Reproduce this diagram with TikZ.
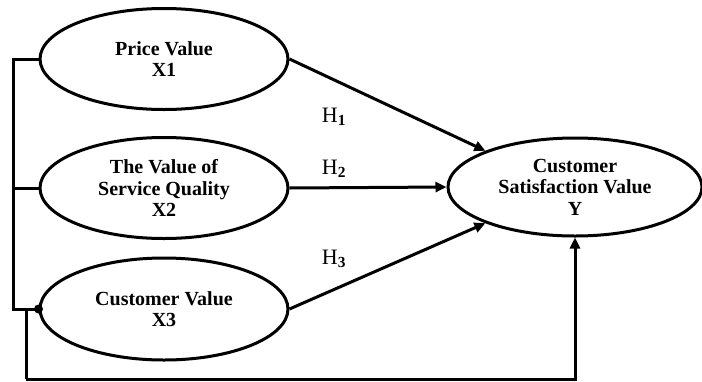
\documentclass[tikz,border=0pt]{standalone}
\usepackage{fontspec}
\setmainfont{Liberation Serif}
\usetikzlibrary{shapes.geometric,arrows.meta}
\tikzset{
  construct/.style={ellipse, draw, line width=3pt, inner sep=0pt, align=center,
    font=\fontsize{20}{21.5}\selectfont\bfseries},
  link/.style={line width=3pt},
  arr/.style={line width=3pt, -{Triangle[length=11pt,width=10pt]}},
  hyp/.style={font=\fontsize{22}{24}\selectfont, inner sep=0pt},
}
\begin{document}
\begin{tikzpicture}[x=1pt,y=-1pt]
\useasboundingbox (0,0) rectangle (702,381);
\node[construct, minimum width=248pt, minimum height=101pt] (x1) at (164,59) {Price Value\\X1};
\node[construct, minimum width=248pt, minimum height=101pt] (x2) at (164,188) {The Value of\\Service Quality\\X2};
\node[construct, minimum width=248pt, minimum height=102pt] (x3) at (164,309) {Customer Value\\X3};
\node[construct, minimum width=254pt, minimum height=98pt] (y) at (575,187) {Customer\\Satisfaction Value\\Y};
\coordinate (b1) at (13,59);
\coordinate (b3) at (13,309);
\coordinate (b2) at (13,188);
\coordinate (c1) at (26,309);
\coordinate (c2) at (26,379);
\draw[link] (x1.west) -- (b1) -- (b3) -- (x3.west);
\draw[link] (x2.west) -- (b2);
\fill (x3.west) circle (4.5pt);
\draw[link] (c1) -- (c2);
\draw[arr] (c2) -| (y.south);
\draw[arr] (x1.east) -- (y.158);
\draw[arr] (x2.east) -- (y.west);
\draw[arr] (x3.east) -- (y.202);
\node[hyp] (h1) at (334,117) {H\textsubscript{\textbf{1}}};
\node[hyp] (h2) at (334,169) {H\textsubscript{\textbf{2}}};
\node[hyp] (h3) at (334,259) {H\textsubscript{\textbf{3}}};
\end{tikzpicture}
\end{document}
